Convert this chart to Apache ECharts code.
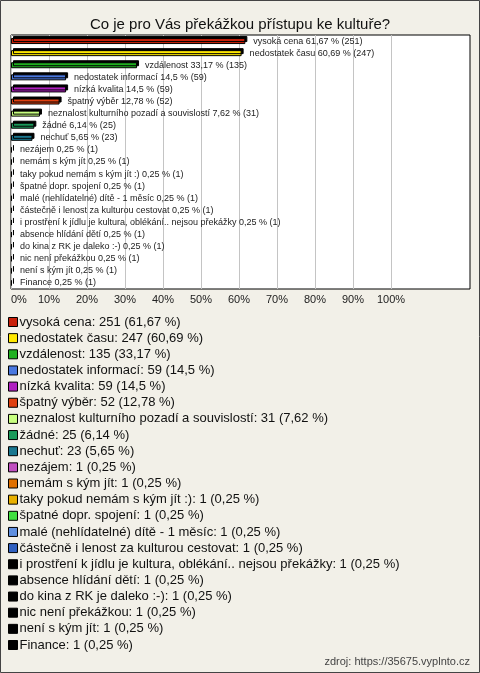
<!DOCTYPE html>
<html>
<head>
<meta charset="utf-8">
<script src="https://cdn.jsdelivr.net/npm/echarts@6/dist/echarts.min.js"></script>
<style>
html,body{margin:0;padding:0;background:#f2f0e8;}
#chart{width:480px;height:673px;}
</style>
</head>
<body>
<div id="chart"></div>
<script>
var titleText = 'Co je pro Vás překážkou přístupu ke kultuře?';
var sourceText = 'zdroj: https://35675.vyplnto.cz';
var categories = [
  'vysoká cena', 'nedostatek času', 'vzdálenost', 'nedostatek informací', 'nízká kvalita',
  'špatný výběr', 'neznalost kulturního pozadí a souvislostí', 'žádné', 'nechuť', 'nezájem',
  'nemám s kým jít', 'taky pokud nemám s kým jít :)', 'špatné dopr. spojení',
  'malé (nehlídatelné) dítě - 1 měsíc', 'částečně i lenost za kulturou cestovat',
  'i prostření k jídlu je kultura, oblékání.. nejsou překážky', 'absence hlídání dětí',
  'do kina z RK je daleko :-)', 'nic není překážkou', 'není s kým jít', 'Finance'
];
var counts = [251, 247, 135, 59, 59, 52, 31, 25, 23, 1, 1, 1, 1, 1, 1, 1, 1, 1, 1, 1, 1];
var percents = [61.67, 60.69, 33.17, 14.5, 14.5, 12.78, 7.62, 6.14, 5.65, 0.25, 0.25, 0.25, 0.25, 0.25, 0.25, 0.25, 0.25, 0.25, 0.25, 0.25, 0.25];
var colors = [
  '#c8200a', '#ffe800', '#20b020', '#4a78e0', '#b020c0', '#e04010', '#c8ff80', '#1a9a5a',
  '#1a7890', '#c050c0', '#e07000', '#e8b000', '#40e040', '#6090e0', '#3060c0',
  '#000000', '#000000', '#000000', '#000000', '#000000', '#000000'
];
var xTicks = [0, 10, 20, 30, 40, 50, 60, 70, 80, 90, 100];

function fmt(v) { return String(v).replace('.', ','); }

var series = categories.map(function (name, i) {
  var data = categories.map(function (c, j) { return j === i ? percents[i] : '-'; });
  return {
    type: 'bar',
    name: name,
    stack: 'all',
    xAxisIndex: 1,
    yAxisIndex: 1,
    barWidth: 6,
    data: data,
    itemStyle: {
      color: colors[i],
      borderColor: '#000',
      borderWidth: 1,
      shadowColor: '#000',
      shadowOffsetX: 2,
      shadowOffsetY: -2,
      shadowBlur: 0
    },
    label: {
      show: true,
      position: 'right',
      distance: 8,
      fontFamily: 'Liberation Sans, Arial, sans-serif',
      fontSize: 9,
      color: '#222',
      formatter: function () {
        return name + ' ' + fmt(percents[i]) + ' % (' + counts[i] + ')';
      }
    }
  };
});

var chart = echarts.init(document.getElementById('chart'), null, { renderer: 'canvas' });
chart.setOption({
  backgroundColor: '#f2f0e8',
  animation: false,
  textStyle: { fontFamily: 'Liberation Sans, Arial, sans-serif' },
  title: [
    {
      text: titleText, left: 'center', top: 12,
      textStyle: { fontSize: 15, fontWeight: 'normal', color: '#111', fontFamily: 'Liberation Sans, Arial, sans-serif' }
    },
    {
      text: sourceText, right: 5, top: 651,
      textStyle: { fontSize: 11, fontWeight: 'normal', color: '#444', fontFamily: 'Liberation Sans, Arial, sans-serif' }
    }
  ],
  graphic: [{
    type: 'rect',
    shape: { x: 0.5, y: 0.5, width: 479, height: 672 },
    style: { fill: 'none', stroke: '#444', lineWidth: 1 },
    silent: true
  }],
  grid: [
    { left: 11, top: 35, right: 10, height: 254, show: true, backgroundColor: '#fff', borderColor: '#000', borderWidth: 1, z: -1 },
    { left: 11, top: 35, width: 380, height: 254 }
  ],
  xAxis: [
    { gridIndex: 0, type: 'value', show: false, min: 0, max: 1 },
    {
      gridIndex: 1, type: 'value', min: 0, max: 100, interval: 10,
      axisLine: { show: false }, axisTick: { show: false },
      splitLine: { show: true, lineStyle: { color: '#c4c4c4', width: 1 } },
      axisLabel: {
        margin: 5, fontSize: 11, color: '#222', alignMinLabel: 'left',
        fontFamily: 'Liberation Sans, Arial, sans-serif',
        formatter: function (v) { return xTicks.indexOf(v) >= 0 ? v + '%' : ''; }
      }
    }
  ],
  yAxis: [
    { gridIndex: 0, type: 'value', show: false, min: 0, max: 1 },
    {
      gridIndex: 1, type: 'category', data: categories, inverse: true,
      axisLine: { show: false }, axisTick: { show: false }, axisLabel: { show: false },
      splitLine: { show: false }
    }
  ],
  legend: {
    orient: 'vertical', left: 8, top: 314, padding: 0,
    itemWidth: 9, itemHeight: 9, itemGap: 0.15,
    icon: 'rect',
    selectedMode: false,
    itemStyle: { borderColor: '#000', borderWidth: 1 },
    textStyle: { fontSize: 13, color: '#111', lineHeight: 16, padding: [0, 0, 0, -3], fontFamily: 'Liberation Sans, Arial, sans-serif' },
    data: categories,
    formatter: function (name) {
      var i = categories.indexOf(name);
      return name + ': ' + counts[i] + ' (' + fmt(percents[i]) + ' %)';
    }
  },
  series: series
});
</script>
</body>
</html>
